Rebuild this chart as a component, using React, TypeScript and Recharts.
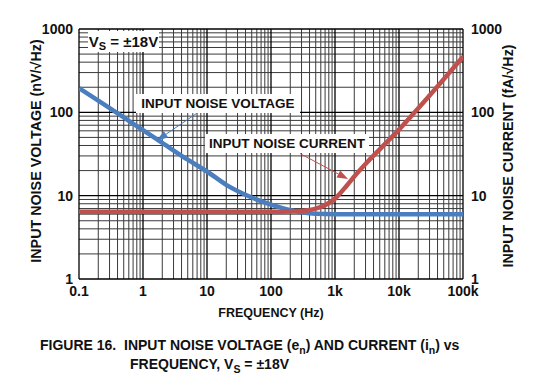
import React from "react";
import { LineChart, Line, XAxis, YAxis, ReferenceLine } from "recharts";

const freqTicks = [0.1, 1, 10, 100, 1000, 10000, 100000];
const freqTickLabels = ["0.1", "1", "10", "100", "1k", "10k", "100k"];
const noiseTicks = [1, 10, 100, 1000];

// input noise voltage (nV/rtHz)
const voltageFreq = [0.1, 0.2, 0.5, 1, 2, 5, 10, 20, 50, 100, 200, 300, 500, 1000, 10000, 100000];
const voltageValues = [195, 138, 87, 61, 43, 27, 19.5, 13.5, 9.5, 7.8, 6.7, 6.3, 6.05, 6.0, 6.0, 6.0];

// input noise current (fA/rtHz)
const currentFreq = [0.1, 1, 10, 100, 200, 300, 500, 700, 1000, 1500, 2000, 3000, 5000, 10000, 20000, 50000, 100000];
const currentValues = [6.4, 6.4, 6.4, 6.4, 6.45, 6.55, 7.0, 7.7, 9.2, 13, 17, 24, 36, 62, 112, 250, 465];

const voltageData = voltageFreq.map((f, i) => ({ f, v: voltageValues[i] }));
const currentData = currentFreq.map((f, i) => ({ f, v: currentValues[i] }));

const BLUE = "#4a7ebf";
const RED = "#c0504d";
const FONT = "'Liberation Sans', Arial, Helvetica, sans-serif";

// minor grid positions 2..9 in each decade
const minorX: number[] = [];
freqTicks.slice(0, -1).forEach(d => { for (let m = 2; m < 10; m++) minorX.push(d * m); });
const minorY: number[] = [];
noiseTicks.slice(0, -1).forEach(d => { for (let m = 2; m < 10; m++) minorY.push(d * m); });

const fmtFreq = (v: number) => freqTickLabels[freqTicks.indexOf(v)] ?? String(v);

function arrow(color: string) {
  return (p: any) => {
    const { x1, y1, x2, y2 } = p;
    const a = Math.atan2(y2 - y1, x2 - x1);
    const L = 11, W = 4;
    const bx = x2 - L * Math.cos(a), by = y2 - L * Math.sin(a);
    const pts = `${x2},${y2} ${bx + W * Math.sin(a)},${by - W * Math.cos(a)} ${bx - W * Math.sin(a)},${by + W * Math.cos(a)}`;
    return (
      <g>
        <line x1={x1} y1={y1} x2={bx} y2={by} stroke={color} strokeWidth={1} />
        <polygon points={pts} fill={color} />
      </g>
    );
  };
}

const tickStyle = { fontSize: 14, fontWeight: 700, fill: "#111", fontFamily: FONT };

export default function App() {
  return (
    <div style={{ position: "absolute", left: 0, top: 0, width: 536, height: 378, background: "#fff", fontFamily: FONT }}>
      <LineChart width={536} height={378} margin={{ top: 29, right: 33, bottom: 69, left: 39 }}>
        <XAxis dataKey="f" type="number" scale="log" domain={[0.1, 100000]} ticks={freqTicks}
          tickFormatter={fmtFreq} allowDataOverflow axisLine={false} tickLine={false}
          tickSize={0} tickMargin={7} height={30} tick={tickStyle} />
        <YAxis yAxisId="left" type="number" scale="log" domain={[1, 1000]} ticks={noiseTicks}
          allowDataOverflow axisLine={false} tickLine={false} tickSize={0} tickMargin={6} width={40} tick={tickStyle} />
        <YAxis yAxisId="right" orientation="right" type="number" scale="log" domain={[1, 1000]} ticks={noiseTicks}
          allowDataOverflow axisLine={false} tickLine={false} tickSize={0} tickMargin={8} width={40} tick={{ ...tickStyle, textAnchor: "start" }} />

        {minorX.map(x => <ReferenceLine key={"mx" + x} yAxisId="left" x={x} stroke="#3a3a3a" strokeWidth={1} />)}
        {minorY.map(y => <ReferenceLine key={"my" + y} yAxisId="left" y={y} stroke="#3a3a3a" strokeWidth={1} />)}
        {freqTicks.map(x => <ReferenceLine key={"x" + x} yAxisId="left" x={x} stroke="#000" strokeWidth={1.3} />)}
        {noiseTicks.map(y => <ReferenceLine key={"y" + y} yAxisId="left" y={y} stroke="#000" strokeWidth={1.3} />)}

        <Line yAxisId="left" data={voltageData} dataKey="v" type="monotone" stroke={BLUE} strokeWidth={4.5}
          dot={false} isAnimationActive={false} />
        <Line yAxisId="right" data={currentData} dataKey="v" type="monotone" stroke={RED} strokeWidth={4.5}
          dot={false} isAnimationActive={false} />

        <ReferenceLine yAxisId="left" segment={[{ x: 7, y: 98 }, { x: 1.65, y: 46 }]} shape={arrow(BLUE)} />
        <ReferenceLine yAxisId="left" segment={[{ x: 284, y: 32 }, { x: 1600, y: 15.8 }]} shape={arrow(RED)} />
      </LineChart>

      {/* annotations */}
      <div style={{ position: "absolute", left: 88, top: 31, width: 71, height: 21, background: "#fff",
        fontSize: 15, fontWeight: 700, lineHeight: "21px", textAlign: "center", color: "#111" }}>
        V<sub style={{ fontSize: 11, verticalAlign: "-3px" }}>S</sub> = ±18V
      </div>
      <div style={{ position: "absolute", left: 136, top: 94, width: 164, height: 19, background: "#fff",
        fontSize: 13.5, fontWeight: 700, lineHeight: "19px", textAlign: "center", color: "#111" }}>
        INPUT NOISE VOLTAGE
      </div>
      <div style={{ position: "absolute", left: 205, top: 134, width: 164, height: 19, background: "#fff",
        fontSize: 13.5, fontWeight: 700, lineHeight: "19px", textAlign: "center", color: "#111" }}>
        INPUT NOISE CURRENT
      </div>

      {/* axis titles */}
      <div style={{ position: "absolute", left: 271, top: 313, transform: "translate(-50%, -50%)",
        fontSize: 12.5, fontWeight: 700, whiteSpace: "nowrap", color: "#111" }}>
        FREQUENCY (Hz)
      </div>
      <div style={{ position: "absolute", left: 36, top: 151, transform: "translate(-50%, -50%) rotate(-90deg)",
        fontSize: 14.3, fontWeight: 700, whiteSpace: "nowrap", color: "#111" }}>
        INPUT NOISE VOLTAGE (nV/√Hz)
      </div>
      <div style={{ position: "absolute", left: 508, top: 156, transform: "translate(-50%, -50%) rotate(-90deg)",
        fontSize: 14.3, fontWeight: 700, whiteSpace: "nowrap", color: "#111" }}>
        INPUT NOISE CURRENT (fA/√Hz)
      </div>

      {/* caption */}
      <div style={{ position: "absolute", left: 40, top: 336, fontSize: 14, fontWeight: 700, whiteSpace: "nowrap",
        color: "#111", lineHeight: "19px" }}>
        FIGURE 16.&nbsp;&nbsp;INPUT NOISE VOLTAGE (e<sub style={{ fontSize: 10.5 }}>n</sub>) AND CURRENT (i<sub style={{ fontSize: 10.5 }}>n</sub>) vs
      </div>
      <div style={{ position: "absolute", left: 130, top: 355, fontSize: 14, fontWeight: 700, whiteSpace: "nowrap",
        color: "#111", lineHeight: "19px" }}>
        FREQUENCY, V<sub style={{ fontSize: 10.5 }}>S</sub> = ±18V
      </div>
    </div>
  );
}
